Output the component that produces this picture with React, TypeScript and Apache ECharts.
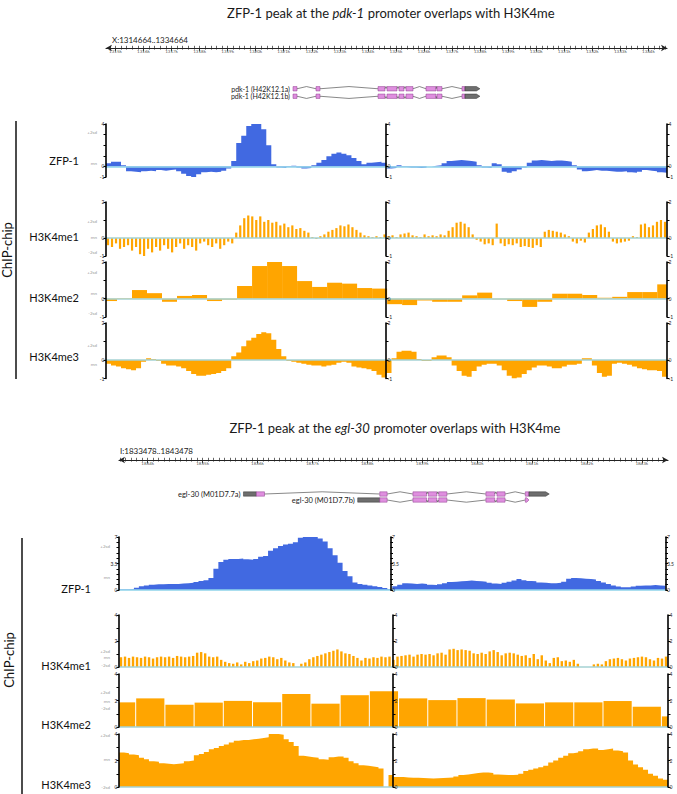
import React, { useEffect, useRef } from "react";
import * as echarts from "echarts";

const W = 677;
const H = 794;
const FONT = "Lato";

// ---------------- Text content ----------------
const topTitle = ["ZFP-1 peak at the ", "pdk-1", " promoter overlaps with H3K4me"];
const bottomTitle = ["ZFP-1 peak at the ", "egl-30", " promoter overlaps with H3K4me"];
const topLocus = "X:1314664..1334664";
const bottomLocus = "I:1833478..1843478";
const trackNames = ["ZFP-1", "H3K4me1", "H3K4me2", "H3K4me3"];
const sideLabel = "ChIP-chip";

// ---------------- Genomic ranges & ruler ticks ----------------
const topRange = [1314664, 1334664];
const bottomRange = [1833478, 1843478];
const topRulerTicks = [1315000, 1316000, 1317000, 1318000, 1319000, 1320000, 1321000, 1322000, 1323000, 1324000,
  1325000, 1326000, 1327000, 1328000, 1329000, 1330000, 1331000, 1332000, 1333000, 1334000];
const bottomRulerTicks = [1834000, 1835000, 1836000, 1837000, 1838000, 1839000, 1840000, 1841000, 1842000, 1843000];
const topMinorStep = 200;
const bottomMinorStep = 100;

// ---------------- Gene models: [start, end, kind, arrow] ----------------
const pdk1a = [
  [1321331, 1321474, "cds"], [1322151, 1322293, "cds"], [1324361, 1324610, "cds"], [1324682, 1325038, "cds"],
  [1325109, 1325288, "cds"], [1325359, 1325609, "cds"], [1326072, 1326429, "cds"], [1326464, 1326642, "cds"],
  [1327355, 1327462, "cds"], [1327462, 1327995, "utr", true],
];
const pdk1b = [
  [1321331, 1321474, "cds"], [1322151, 1322293, "cds"], [1324361, 1324610, "cds"], [1324682, 1325038, "cds"],
  [1325109, 1325288, "cds"], [1325359, 1325609, "cds"], [1326072, 1326429, "cds"], [1326464, 1326642, "cds"],
  [1327355, 1327462, "cds"], [1327462, 1327995, "utr", true],
];
const egl30a = [
  [1835745, 1835980, "utr"], [1835980, 1836128, "cds"], [1838228, 1838362, "cds"], [1838832, 1839081, "cds"],
  [1839114, 1839268, "cds"], [1839302, 1839450, "cds"], [1840161, 1840322, "cds"], [1840362, 1840510, "cds"],
  [1840879, 1840946, "cds"], [1840946, 1841315, "utr", true],
];
const egl30b = [
  [1837826, 1838228, "utr"], [1838228, 1838362, "cds"], [1838832, 1839081, "cds"],
  [1839114, 1839268, "cds"], [1839302, 1839450, "cds"], [1840161, 1840322, "cds"], [1840362, 1840510, "cds"],
  [1840879, 1840946, "cds", true],
];
const topTranscriptNames = ["pdk-1 (H42K12.1a)", "pdk-1 (H42K12.1b)"];
const bottomTranscriptNames = ["egl-30 (M01D7.7a)", "egl-30 (M01D7.7b)"];

// ---------------- Track values: top panel (pdk-1) ----------------
const topZfp1 = [
  0.3, 0.45, 0.45, 0.1, -0.45, -0.5, -0.55, -0.45, -0.4, -0.45,
  -0.35, -0.4, -0.35, -0.3, -0.45, -0.7, -0.9, -1.0, -0.75, -0.55,
  -0.5, -0.55, -0.5, -0.4, -0.2, 0.5, 2.2, 2.9, 3.8, 4.0,
  4.0, 3.5, 2.0, 0.2, -0.1, -0.15, -0.05, 0.05, -0.1, -0.2,
  -0.15, 0.1, 0.35, 0.6, 0.95, 1.2, 1.3, 1.2, 1.05, 0.8,
  0.5, 0.2, 0.35, 0.4, 0.45, 0.35, -0.2, -0.15, 0.1, -0.05,
  -0.1, -0.1, -0.15, -0.1, 0.0, 0.05, 0.1, 0.3, 0.5, 0.55,
  0.6, 0.55, 0.5, 0.45, 0.1, -0.1, -0.15, 0.3, 0.2, -0.5,
  -0.6, -0.45, -0.3, -0.1, 0.35, 0.55, 0.6, 0.55, 0.5, 0.55,
  0.55, 0.5, 0.45, 0.1, -0.3, -0.45, -0.4, -0.35, -0.4, -0.4,
  -0.45, -0.5, -0.5, -0.45, -0.55, -0.6, -0.5, -0.35, -0.4, -0.45,
  -0.55, -0.6,
];
const topMe1 = [
  -0.4, -0.5, -0.3, -0.6, -0.5, -0.4, -0.7, -0.5, -0.9, -1.0, -0.6, -0.8, -0.5, -0.7, -0.4, -0.6,
  -0.8, -0.5, -0.3, -0.6, -0.4, -0.5, -0.7, -0.3, -0.2, -0.4, -0.5, -0.3, -0.6, -0.4, -0.2,
  -0.3, 0.3, 0.7, 1.1, 1.25, 1.2, 1.0, 1.2, 0.9, 1.0, 0.85, 0.9, 0.7, 0.8, 0.6, 0.7, 0.5, 0.55, 0.4, 0.3,
  0.05, -0.05, 0.1, 0.2, 0.35, 0.45, 0.55, 0.7, 0.65, 0.75, 0.6, 0.45, 0.3, 0.15, 0.1, 0.05, 0.1, 0.05, 0.2,
  0.1, 0.15, 0.05, 0.2, 0.25, 0.3, 0.15, 0.1, 0.05, 0.2,
  0.1, 0.15, 0.1, 0.2, 0.15, 0.4, 0.6, 0.85, 0.9, 0.8,
  0.6, 0.2, -0.1, -0.2, -0.35, -0.3, -0.4, 0.8, -0.3, -0.45,
  -0.35, -0.4, -0.3, -0.5, -0.45, -0.5, -0.55, -0.4, -0.5, 0.35,
  0.45, 0.4, 0.35, 0.3, 0.2, 0.1, -0.2, -0.3, -0.15, -0.25,
  0.3, 0.5, 0.7, 0.75, 0.6, 0.35, -0.2, -0.3, -0.25, -0.2,
  -0.15, 0.1, 0.05, 0.75, 0.8, 0.6, 0.7, 0.9, 1.0, 0.9,
];
const topMe2 = [
  -0.13, 0.02, 0.47, 0.3, -0.17, 0.15, 0.2, -0.13, -0.05, 0.69,
  1.78, 2.0, 1.78, 0.96, 0.64, 0.87, 0.82, 0.58, 0.55, -0.3,
  -0.35, -0.1, -0.17, -0.17, 0.18, 0.33, -0.04, -0.13, -0.45, -0.17,
  0.27, 0.27, 0.2, 0.05, 0.1, 0.36, 0.36, 0.78,
];
const topMe2BinStart = 1314521;
const topMe2BinWidth = 535;
const topMe3 = [
  -0.2, -0.3, -0.35, -0.45, -0.5, -0.55, -0.45, -0.1, 0.1, 0.05,
  -0.05, -0.2, -0.3, -0.3, -0.35, -0.45, -0.6, -0.75, -0.85, -0.85,
  -0.8, -0.75, -0.7, -0.6, -0.45, 0.2, 0.4, 0.75, 1.05, 1.2,
  1.4, 1.5, 1.45, 1.1, 0.6, 0.2, -0.05, -0.1, -0.15, -0.2,
  -0.25, -0.3, -0.3, -0.35, -0.3, -0.25, -0.15, -0.1, -0.15, -0.35,
  -0.4, -0.45, -0.5, -0.6, -0.8, -0.95, -0.7, 0.1, 0.45, 0.5,
  0.5, 0.45, 0.05, -0.05, -0.05, 0.15, 0.25, 0.25, 0.15, -0.3,
  -0.6, -0.85, -0.9, -0.6, -0.35, -0.25, -0.2, -0.2, -0.3, -0.55,
  -0.85, -1.0, -0.95, -0.75, -0.55, -0.4, -0.3, -0.3, -0.35, -0.45,
  -0.45, -0.35, -0.25, -0.25, -0.2, 0.1, 0.1, -0.3, -0.7, -0.9,
  -0.85, -0.2, -0.15, -0.2, -0.25, -0.35, -0.45, -0.5, -0.55, -0.55,
  -0.6, -0.9,
];

// ---------------- Track values: bottom panel (egl-30) ----------------
const botZfp1 = [
  0.05, 0.05, 0.1, 0.3, 0.5, 0.6, 0.7, 0.75, 0.75, 0.8,
  0.8, 0.8, 0.85, 0.9, 0.95, 1.05, 1.2, 1.3, 1.6, 2.8,
  3.7, 4.0, 4.1, 4.1, 4.15, 4.05, 4.0, 4.1, 4.4, 4.5,
  5.2, 5.5, 5.8, 6.0, 6.1, 6.3, 6.9, 7.0, 7.0, 7.0,
  6.8, 6.4, 5.5, 4.6, 3.6, 2.5, 1.8, 1.0, 0.8, 0.7,
  0.6, 0.5, 0.4, 0.25, 0.1, 0.5, 0.7, 0.9, 0.85, 0.8,
  0.85, 0.8, 0.7, 0.65, 0.75, 0.9, 1.05, 1.1, 1.15, 1.2,
  1.25, 1.2, 1.15, 1.1, 0.95, 0.85, 0.8, 0.95, 1.1, 1.25,
  1.45, 1.3, 1.2, 1.15, 1.0, 0.95, 0.9, 0.9, 0.95, 1.1,
  1.5, 1.6, 1.55, 1.5, 1.45, 1.4, 1.2, 1.0, 0.8, 0.6,
  0.45, 0.35, 0.35, 0.45, 0.55, 0.6, 0.6, 0.65, 0.6, 0.55,
];
const botMe1 = [
  0.75, 0.8, 0.7, 0.8, 0.75, 0.7, 0.8, 0.75, 0.65, 0.75, 0.8, 0.75, 0.8, 0.7, 0.85, 0.8, 0.75, 0.8, 0.85,
  1.1, 1.15, 1.05, 0.8, 0.75, 0.8,
  0.55, 0.4, 0.3, 0.25, 0.35, 0.2, 0.4, 0.3, 0.45, 0.5,
  0.65, 0.7, 0.8, 0.75, 0.6, 0.7, 0.5,
  0.35, 0.3, 0.0, 0.25, 0.35,
  0.6, 0.75, 0.85, 0.95, 1.05, 1.15, 1.25, 1.35,
  1.2, 1.05, 1.0, 0.85, 0.7,
  0.5, 0.7, 0.65, 0.75, 0.7, 0.8, 0.75, 0.8,
  0.55, 0.8, 0.85, 0.9, 0.95, 0.8,
  0.95, 1.0, 0.95, 1.0, 0.9, 1.05, 1.1, 0.95,
  1.35, 1.4, 1.3, 1.35, 1.3, 1.25,
  1.05, 1.0, 1.1, 1.0, 1.2, 1.3, 1.15,
  0.9, 1.05, 1.1, 1.05, 0.95,
  0.85, 0.9, 0.7, 1.0, 0.6, 0.9, 0.5,
  0.3, 0.7, 0.75, 0.45, 0.5, 0.4, 0.55, 0.25,
  0.0, 0.0, 0.0,
  0.2, 0.25, 0.2, 0.45,
  0.6, 0.65, 0.7, 0.6, 0.5, 0.65, 0.7, 0.75, 0.8, 0.75, 0.6, 0.5, 0.7, 0.65, 0.8,
];
const botMe2 = [
  1.86, 2.16, 1.68, 1.84, 1.97, 1.86, 2.5, 1.76, 2.4, 2.7,
  2.16, 2.03, 2.18, 2.08, 1.78, 1.86, 1.86, 1.96, 1.53, 0.8,
];
const botMe2BinStart = 1833259;
const botMe2BinWidth = 532;
const botMe3 = [
  2.6, 2.55, 2.45, 2.4, 2.2, 2.1, 1.95, 1.9, 1.8, 1.75,
  1.72, 1.75, 1.8, 1.95, 2.0, 2.4, 2.5, 2.65, 2.85, 2.95,
  3.1, 3.2, 3.35, 3.5, 3.55, 3.55, 3.6, 3.65, 3.7, 3.75,
  4.0, 4.0, 3.95, 3.6, 3.4, 3.1, 2.35, 2.3, 2.25, 2.2,
  2.1, 2.05, 2.25, 2.3, 2.3, 2.2, 1.95, 1.8, 1.65, 1.6,
  1.55, 1.5, 1.4, 0, 0.9, 0.75, 0.75, 0.72, 0.7, 0.7,
  0.68, 0.66, 0.65, 0.66, 0.68, 0.7, 0.72, 0.8, 0.9, 0.95,
  1.0, 1.05, 1.1, 1.1, 1.05, 0.95, 0.92, 0.9, 0.9, 0.92,
  1.0, 1.2, 1.3, 1.4, 1.5, 1.6, 1.85, 2.0, 2.2, 2.35,
  2.55, 2.6, 2.7, 2.85, 2.9, 2.9, 2.8, 2.85, 2.9, 2.75,
  2.7, 2.6, 2.0, 1.7, 1.5, 1.3, 1.0, 0.85, 0.65, 0.55,
];

// ---------------- Axis ticks / labels / sd marks ----------------
const topZfpTicks = [-1, 0, 1, 2, 3, 4];
const topZfpLabels = [-1, 0, 4];
const topHisTicks = [-1, 0, 1, 2];
const topHisLabels = [-1, 0, 2];
const botZfpTicks = [0, 0.7, 1.4, 2.1, 2.8, 3.5, 4.2, 4.9, 5.6, 6.3, 7];
const botZfpLabels = [0, 3.5, 7];
const botHisTicks = [0, 1, 2, 3, 4];
const botHisLabels = [0, 2, 4];
const sdNames3 = ["+2sd", "mn", "-2sd"];
const topZfpSd = [3.2, 0.3];
const topMe1Sd = [0.89, 0.05, -0.78];
const topMe2Sd = [1.42, 0.29, -0.83];
const topMe3Sd = [0.8, -0.22];
const botZfpSd = [5.8, 1.7];
const botMe1Sd = [1.23, 0.7, 0.08];
const botMe2Sd = [2.57, 1.96, 1.36];
const botMe3Sd = [3.9, 2.04, 0.0];

const BLUE = "#4169e1";
const ORANGE = "#ffa500";

function buildOption() {
  const grid: any[] = [];
  const xAxis: any[] = [];
  const yAxis: any[] = [];
  const series: any[] = [];
  const graphic: any[] = [];

  function addRuler(range: number[], ticks: number[], minorStep: number, left: number, right: number, y: number) {
    const gi = grid.length;
    grid.push({ left, right, top: y - 1, height: 1 });
    const minors: number[] = [];
    for (let v = Math.ceil(range[0] / minorStep) * minorStep; v <= range[1]; v += minorStep) minors.push(v);
    const base = { gridIndex: gi, type: "value", min: range[0], max: range[1], position: "bottom", splitLine: { show: false } };
    xAxis.push({
      ...base,
      axisLine: { show: true, onZero: false, symbol: ["arrow", "arrow"], symbolSize: [5, 6], lineStyle: { color: "#222", width: 1.1 } },
      axisTick: { show: true, customValues: ticks, length: 3.5, lineStyle: { color: "#222", width: 0.9 } },
      axisLabel: { show: true, customValues: ticks, formatter: (v: number) => Math.round(v / 1000) + "k", fontSize: 4.5, color: "#555", margin: 1, fontFamily: FONT },
    });
    xAxis.push({
      ...base,
      axisLine: { show: false, onZero: false },
      axisTick: { show: true, inside: true, customValues: minors, length: 2.2, lineStyle: { color: "#222", width: 0.7 } },
      axisLabel: { show: false },
    });
    xAxis.push({
      ...base,
      axisLine: { show: false, onZero: false },
      axisTick: { show: true, customValues: minors, length: 1.6, lineStyle: { color: "#222", width: 0.7 } },
      axisLabel: { show: false },
    });
    yAxis.push({ gridIndex: gi, type: "value", show: false });
  }

  function addGenes(range: number[], transcripts: any[][], names: string[], left: number, right: number, top: number, height: number, fontSize: number) {
    const gi = grid.length;
    grid.push({ left, right, top, height });
    const xi = xAxis.length;
    xAxis.push({ gridIndex: gi, type: "value", min: range[0], max: range[1], show: false });
    const yi = yAxis.length;
    yAxis.push({ gridIndex: gi, type: "category", data: names, inverse: true, show: false });
    const dirs = [-1, 1];
    series.push({
      type: "custom",
      xAxisIndex: xi,
      yAxisIndex: yi,
      silent: true,
      data: transcripts.map((t, i) => [t[0][0], i]),
      encode: { x: 0, y: 1 },
      renderItem: (params: any, api: any) => {
        const idx = params.dataIndex;
        const segs = transcripts[idx];
        const row = api.value(1);
        const yc = api.coord([segs[0][0], row])[1];
        const h = 4.4;
        const children: any[] = [];
        let prevEnd: number | null = null;
        segs.forEach((seg: any) => {
          const [s, e, kind, arrow] = seg;
          const x0 = api.coord([s, row])[0];
          const x1 = api.coord([e, row])[0];
          if (prevEnd !== null && x0 - prevEnd > 0.3) {
            children.push({
              type: "polyline",
              shape: { points: [[prevEnd, yc], [(prevEnd + x0) / 2, yc + dirs[idx] * 2.2], [x0, yc]] },
              style: { stroke: "#555", lineWidth: 0.7, fill: null },
            });
          }
          const fill = kind === "cds" ? "#df8fdf" : "#6e6e6e";
          const stroke = kind === "cds" ? "#8e3a8e" : "#333";
          if (arrow) {
            const tip = Math.min(3.5, (x1 - x0) * 0.6);
            children.push({
              type: "polygon",
              shape: { points: [[x0, yc - h / 2], [x1 - tip, yc - h / 2], [x1, yc], [x1 - tip, yc + h / 2], [x0, yc + h / 2]] },
              style: { fill, stroke, lineWidth: 0.5 },
            });
          } else {
            children.push({
              type: "rect",
              shape: { x: x0, y: yc - h / 2, width: Math.max(x1 - x0, 0.8), height: h },
              style: { fill, stroke, lineWidth: 0.5 },
            });
          }
          prevEnd = x1;
        });
        const firstX = api.coord([segs[0][0], row])[0];
        children.push({
          type: "text",
          style: { text: names[idx], x: firstX - 3, y: yc, align: "right", verticalAlign: "middle", fontSize, fontFamily: FONT, fill: "#222" },
        });
        return { type: "group", children };
      },
    });
  }

  function addTrack(t: any) {
    const gi = grid.length;
    grid.push({ left: t.left, right: t.right, top: t.top, height: t.height });
    const xi = xAxis.length;
    xAxis.push({
      gridIndex: gi, type: "value", min: t.range[0], max: t.range[1], position: "bottom", z: 3,
      axisLine: { show: true, onZero: true, lineStyle: { color: t.base, width: 1.6 } },
      axisTick: { show: false }, axisLabel: { show: false }, splitLine: { show: false },
    });
    const yi = yAxis.length;
    const mk = (position: string, offset: number) => ({
      gridIndex: gi, type: "value", min: t.min, max: t.max, position, offset, z: 4,
      splitLine: { show: false },
      axisLine: { show: true, onZero: false, lineStyle: { color: "#000", width: 1.6 } },
      axisTick: { show: true, customValues: t.ticks, length: 2.5, lineStyle: { color: "#000", width: 1 } },
      axisLabel: { show: true, customValues: t.labels, fontSize: 5, color: "#222", margin: 1.5, fontFamily: FONT },
    });
    yAxis.push(mk("left", 0));
    yAxis.push(mk("right", -((W - t.right) - t.midX)));
    yAxis.push(mk("right", 0));
    yAxis.push({
      gridIndex: gi, type: "value", min: t.min, max: t.max, position: "left", offset: 9,
      splitLine: { show: false }, axisLine: { show: false }, axisTick: { show: false },
      axisLabel: {
        show: true, customValues: t.sd, margin: 0, fontSize: 4.5, color: "#9a9a9a", fontFamily: FONT,
        formatter: (v: number) => {
          const k = t.sd.findIndex((s: number) => Math.abs(s - v) < 1e-6);
          return k >= 0 ? sdNames3[k] : "";
        },
      },
    });
    const n = t.values.length;
    if (t.kind === "area") {
      const bin = (t.range[1] - t.range[0]) / n;
      const pts = t.values.map((v: number, i: number) => [t.range[0] + i * bin, v]);
      pts.push([t.range[1], t.values[n - 1]]);
      series.push({
        type: "line", xAxisIndex: xi, yAxisIndex: yi, data: pts, step: "end", symbol: "none", silent: true,
        lineStyle: { width: 0 }, areaStyle: { color: t.color, opacity: 1 }, clip: true,
      });
    } else if (t.kind === "bar") {
      const bin = (t.range[1] - t.range[0]) / n;
      series.push({
        type: "bar", xAxisIndex: xi, yAxisIndex: yi, silent: true, barWidth: t.barWidth,
        data: t.values.map((v: number, i: number) => [t.range[0] + (i + 0.5) * bin, v]),
        itemStyle: { color: t.color },
      });
    } else {
      const blocks = t.values.map((v: number, i: number) => [t.binStart + i * t.binWidth, t.binStart + (i + 1) * t.binWidth, v]);
      series.push({
        type: "custom", xAxisIndex: xi, yAxisIndex: yi, silent: true, data: blocks,
        encode: { x: [0, 1], y: 2 },
        renderItem: (params: any, api: any) => {
          const a = api.coord([api.value(0), api.value(2)]);
          const b = api.coord([api.value(1), 0]);
          const cs = params.coordSys;
          const x0 = Math.max(a[0], cs.x);
          const x1 = Math.min(b[0] - t.gap, cs.x + cs.width);
          if (x1 <= x0) return { type: "group", children: [] };
          const y0 = Math.min(a[1], b[1]);
          const y1 = Math.max(a[1], b[1]);
          return { type: "rect", shape: { x: x0, y: y0, width: x1 - x0, height: y1 - y0 }, style: { fill: t.color } };
        },
      });
    }
  }

  // ---------- top panel ----------
  const TL = 106, TR = W - 667, TM = 386;
  addRuler(topRange, topRulerTicks, topMinorStep, TL, TR, 48);
  addGenes(topRange, [pdk1a, pdk1b], topTranscriptNames, TL, TR, 85, 15, 7);
  const topBase = "#8fd3ea";
  const hisBase = "#a5d2d4";
  addTrack({ range: topRange, left: TL, right: TR, midX: TM, top: 124, height: 53, min: -1, max: 4, ticks: topZfpTicks, labels: topZfpLabels, sd: topZfpSd, kind: "area", values: topZfp1, color: BLUE, base: topBase });
  addTrack({ range: topRange, left: TL, right: TR, midX: TM, top: 202, height: 54, min: -1, max: 2, ticks: topHisTicks, labels: topHisLabels, sd: topMe1Sd, kind: "bar", values: topMe1, color: ORANGE, base: hisBase, barWidth: 2.2 });
  addTrack({ range: topRange, left: TL, right: TR, midX: TM, top: 262, height: 55, min: -1, max: 2, ticks: topHisTicks, labels: topHisLabels, sd: topMe2Sd, kind: "block", values: topMe2, binStart: topMe2BinStart, binWidth: topMe2BinWidth, gap: 0, color: ORANGE, base: hisBase });
  addTrack({ range: topRange, left: TL, right: TR, midX: TM, top: 323, height: 55.5, min: -1, max: 2, ticks: topHisTicks, labels: topHisLabels, sd: topMe3Sd, kind: "area", values: topMe3, color: ORANGE, base: hisBase });

  // ---------- bottom panel ----------
  const BL = 119, BR = W - 668, BM = 393;
  addRuler(bottomRange, bottomRulerTicks, bottomMinorStep, BL, BR, 460);
  addGenes(bottomRange, [egl30a, egl30b], bottomTranscriptNames, BL, BR, 491, 12, 7.5);
  addTrack({ range: bottomRange, left: BL, right: BR, midX: BM, top: 537, height: 53, min: 0, max: 7, ticks: botZfpTicks, labels: botZfpLabels, sd: botZfpSd, kind: "area", values: botZfp1, color: BLUE, base: topBase });
  addTrack({ range: bottomRange, left: BL, right: BR, midX: BM, top: 615, height: 52, min: 0, max: 4, ticks: botHisTicks, labels: botHisLabels, sd: botMe1Sd, kind: "bar", values: botMe1, color: ORANGE, base: hisBase, barWidth: 2.4 });
  addTrack({ range: bottomRange, left: BL, right: BR, midX: BM, top: 674, height: 53, min: 0, max: 4, ticks: botHisTicks, labels: botHisLabels, sd: botMe2Sd, kind: "block", values: botMe2, binStart: botMe2BinStart, binWidth: botMe2BinWidth, gap: 1, color: ORANGE, base: hisBase });
  addTrack({ range: bottomRange, left: BL, right: BR, midX: BM, top: 734, height: 53, min: 0, max: 4, ticks: botHisTicks, labels: botHisLabels, sd: botMe3Sd, kind: "area", values: botMe3, color: ORANGE, base: hisBase });

  // ---------- texts & decorations ----------
  const titleText = (p: string[]) => `{n|${p[0]}}{i|${p[1]}}{n|${p[2]}}`;
  const titleRich = { n: { fontSize: 13, fontFamily: FONT, fill: "#1a1a1a" }, i: { fontSize: 13, fontFamily: FONT, fontStyle: "italic", fill: "#1a1a1a" } };
  graphic.push({ type: "text", x: 391, y: 13, style: { text: titleText(topTitle), rich: titleRich, align: "center", verticalAlign: "middle", fontSize: 13, fontFamily: FONT } });
  graphic.push({ type: "text", x: 395, y: 428, style: { text: titleText(bottomTitle), rich: titleRich, align: "center", verticalAlign: "middle", fontSize: 13, fontFamily: FONT } });
  graphic.push({ type: "text", x: 112, y: 40, style: { text: topLocus, align: "left", verticalAlign: "middle", fontSize: 8, fontFamily: FONT, fill: "#222" } });
  graphic.push({ type: "text", x: 120, y: 451, style: { text: bottomLocus, align: "left", verticalAlign: "middle", fontSize: 8, fontFamily: FONT, fill: "#222" } });

  const topLabelY = [160, 236, 297, 356];
  const botLabelY = [588, 665, 724, 784];
  trackNames.forEach((name, i) => {
    graphic.push({ type: "text", x: 79, y: topLabelY[i], style: { text: name, align: "right", verticalAlign: "middle", fontSize: 11, fontFamily: FONT, fill: "#111" } });
    graphic.push({ type: "text", x: 91, y: botLabelY[i], style: { text: name, align: "right", verticalAlign: "middle", fontSize: 11, fontFamily: FONT, fill: "#111" } });
  });
  graphic.push({ type: "text", x: 7, y: 250, rotation: Math.PI / 2, style: { text: sideLabel, align: "center", verticalAlign: "middle", fontSize: 13, fontFamily: FONT, fill: "#111" } });
  graphic.push({ type: "text", x: 9, y: 660, rotation: Math.PI / 2, style: { text: sideLabel, align: "center", verticalAlign: "middle", fontSize: 13, fontFamily: FONT, fill: "#111" } });
  graphic.push({ type: "line", shape: { x1: 16, y1: 121, x2: 16, y2: 379 }, style: { stroke: "#111", lineWidth: 1.5 } });
  graphic.push({ type: "line", shape: { x1: 22, y1: 538, x2: 22, y2: 794 }, style: { stroke: "#111", lineWidth: 1.5 } });

  return { animation: false, backgroundColor: "#fff", grid, xAxis, yAxis, series, graphic };
}

export default function App() {
  const ref = useRef<HTMLDivElement>(null);
  useEffect(() => {
    const chart = echarts.init(ref.current!, null, { renderer: "svg", width: W, height: H });
    chart.setOption(buildOption());
    return () => chart.dispose();
  }, []);
  return <div ref={ref} style={{ position: "fixed", left: 0, top: 0, width: W, height: H, background: "#fff" }} />;
}
